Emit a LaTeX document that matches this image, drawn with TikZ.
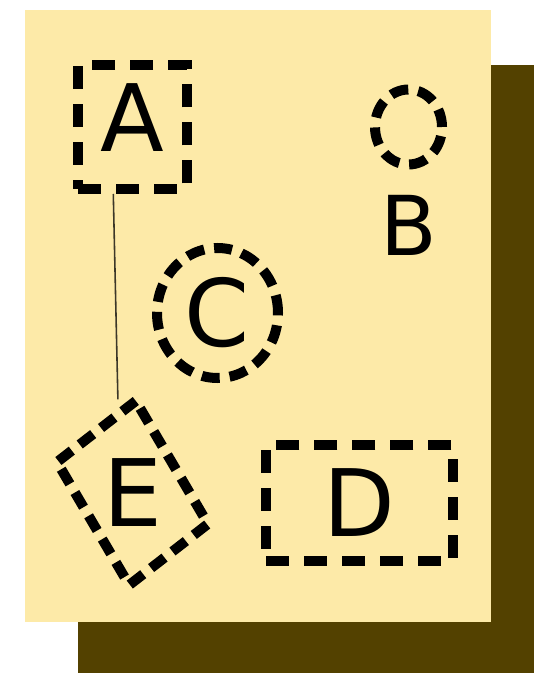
\documentclass[tikz,border=0pt]{standalone}
\usepackage{graphicx}
\usepackage{fontspec}
\setmainfont{DejaVu Sans}
\usepackage{tikz}
\usetikzlibrary{positioning,shapes.geometric}
\definecolor{notepaper}{RGB}{253,234,168}
\definecolor{noteshadow}{RGB}{83,65,0}
\definecolor{linkgray}{RGB}{60,55,40}
\tikzset{dashbox/.style={draw, line width=0.2cm, dash pattern=on 0.46cm off 0.3cm, inner sep=0pt, font=\fontsize{53}{60}\selectfont}}
\tikzset{dashoval/.style={dashbox, ellipse, dash pattern=on 0.36cm off 0.2cm}}
\tikzset{linkline/.style={draw=linkgray, line width=0.9pt}}

\begin{document}
\begin{tikzpicture}[on grid]
\useasboundingbox (0,0) rectangle (10.68,-13.46);
\fill[white] (0,0) rectangle (10.68,-13.46);
\fill[noteshadow] (1.56,-1.3) rectangle (10.68,-13.46);
\fill[notepaper] (0.5,-0.2) rectangle (9.82,-12.44);
\node[dashbox, minimum width=2.17cm, minimum height=2.48cm, text depth=0.38cm] (a) at (2.65,-2.54) {A};
\node[dashoval, minimum width=1.34cm, minimum height=1.5cm, right=5.52cm of a,
  label={[name=b-label, inner sep=0pt, label distance=0.5cm, font=\fontsize{47}{54}\selectfont]below:B}] (b) {};
\node[dashoval, minimum width=2.42cm, minimum height=2.6cm, below=3.72cm of a, xshift=1.7cm] (c) {C};
% E: tilted box, letter kept upright
\node[dashbox, yscale=1.15, rotate=34, minimum width=1.9cm, minimum height=2.58cm, dash pattern=on 0.34cm off 0.2cm, below=7.32cm of a] (e) {\rotatebox{-34}{\scalebox{1}[0.87]{E}}};
\node[dashbox, minimum width=3.73cm, minimum height=2.32cm, right=4.54cm of e, yshift=-0.2cm] (d) {D};
\draw[linkline, shorten >=0.17cm] (a.254) -- (e.67);
\end{tikzpicture}
\end{document}
